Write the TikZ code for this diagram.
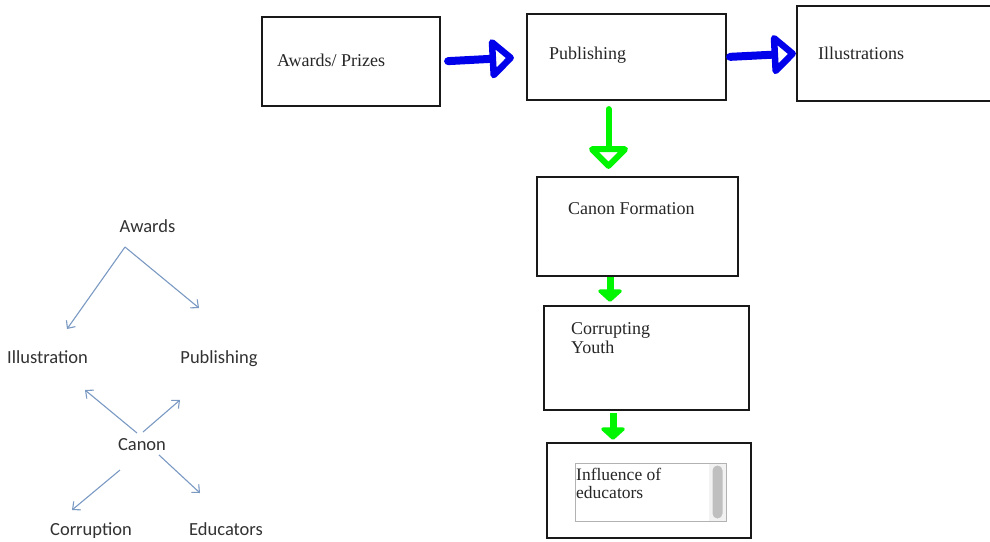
\documentclass[tikz,border=0pt]{standalone}
\usepackage{fontspec}
\setmainfont{Liberation Serif}
\newfontfamily\calibri{Carlito}
\usetikzlibrary{arrows.meta}
\definecolor{penblue}{RGB}{0,0,235}
\definecolor{pengreen}{RGB}{0,245,0}
\definecolor{treeblue}{RGB}{122,153,195}
\definecolor{treetext}{RGB}{50,50,50}

\begin{document}
\begin{tikzpicture}[x=1pt,y=-1pt,
  flowbox/.style={draw=black!90, line width=2.2pt},
  flowtext/.style={inner sep=0pt, font=\fontsize{18}{19}\selectfont, text=black!85, align=left},
  treetxt/.style={inner sep=0pt, font=\calibri\fontsize{18.5}{20}\selectfont, text=treetext},
  treearrow/.style={-{Straight Barb[length=6pt,width=11pt]}, draw=treeblue, line width=1.1pt},
  bluearrow/.style={draw=penblue, line width=8pt, line cap=round, arrows={-Triangle[open, round, length=26pt 0 0, width=46pt 0 0, line width=7pt]}},
  greenarrow/.style={draw=pengreen, line width=6pt, line cap=round, arrows={-Triangle[open, round, length=24pt 0 0, width=46pt 0 0, line width=6pt]}},
  greenstub/.style={draw=pengreen, fill=pengreen, line width=7pt, arrows={-Triangle[round, length=13pt 0 0, width=28pt 0 0]}}]
\fill[white] (0,0) rectangle (990,541);
\useasboundingbox (0,0) rectangle (990,541);

\node[flowbox, minimum width=178, minimum height=89] (prizes) at (351,61.5) {};
\node[flowbox, minimum width=199, minimum height=86] (pub) at (626.5,57) {};
\node[flowbox, minimum width=203, minimum height=95] (illustr) at (898.5,53.5) {};
\node[flowbox, minimum width=201, minimum height=99] (canonf) at (637.5,226.5) {};
\node[flowbox, minimum width=205, minimum height=104] (corrupt) at (646.5,358) {};
\node[flowbox, minimum width=204, minimum height=95] (influ) at (649,490.5) {};

\node[flowtext, anchor=base west] (prizeslbl) at (277,66) {Awards/ Prizes};
\node[flowtext, anchor=base west] (publbl) at (549,59) {Publishing};
\node[flowtext, anchor=base west] (illustrlbl) at (818,59) {Illustrations};
\node[flowtext, anchor=base west] (canonlbl) at (568,214) {Canon Formation};
\node[flowtext, anchor=base west] (corruptlbl) at (571,353) {Corrupting\\Youth};

\node[draw=black!30, line width=1pt, minimum width=151, minimum height=58] (inbox) at (650.5,492) {};
\fill[black!5] ([shift={(-18,1)}]inbox.north east) rectangle ([shift={(-1,-1)}]inbox.south east);
\fill[black!25, rounded corners=5pt] ([shift={(-14,3)}]inbox.north east) rectangle ([shift={(-4,-3)}]inbox.south east);
\node[flowtext, anchor=base west, font=\fontsize{17.5}{18}\selectfont] (influlbl) at (576,498) {Influence of\\educators};

\draw[bluearrow, shorten <=7pt, shorten >=12pt] (prizes.east) -- (pub.west);
\draw[bluearrow, shorten <=3pt] (pub.east) -- (illustr.west);
\draw[greenarrow, shorten <=8pt, shorten >=7pt] ([xshift=-18pt]pub.south) -- ([xshift=-18pt]pub.south |- canonf.north);
\draw[greenstub, shorten >=3pt] ([xshift=-27.5pt]canonf.south) -- ([xshift=-27.5pt]canonf.south |- corrupt.north);
\draw[greenstub, shorten <=2pt, shorten >=2pt] ([xshift=-33.5pt]corrupt.south) -- ([xshift=-33.5pt]corrupt.south |- influ.north);

\node[treetxt, anchor=base] (awards) at (147.5,232) {Awards};
\node[treetxt, anchor=base] (illus) at (47.5,363) {Illustration};
\node[treetxt, anchor=base] (publish) at (219,363) {Publishing};
\node[treetxt, anchor=base] (canon) at (142,450) {Canon};
\node[treetxt, anchor=base] (corrupt2) at (91,535) {Corruption};
\node[treetxt, anchor=base] (educ) at (226,535) {Educators};

\draw[treearrow] ([shift={(-22.5,15)}]awards.base) -- ([shift={(19.5,-34)}]illus.base);
\draw[treearrow] ([shift={(-22.5,15)}]awards.base) -- ([shift={(-20,-55)}]publish.base);
\draw[treearrow] ([shift={(-5,-17)}]canon.base) -- ([shift={(37.5,27)}]illus.base);
\draw[treearrow] ([shift={(1,-18)}]canon.base) -- ([shift={(-39,37)}]publish.base);
\draw[treearrow] ([shift={(-22,20)}]canon.base) -- ([shift={(-19,-25)}]corrupt2.base);
\draw[treearrow] ([shift={(17,5)}]canon.base) -- ([shift={(-26,-42)}]educ.base);
\end{tikzpicture}
\end{document}
